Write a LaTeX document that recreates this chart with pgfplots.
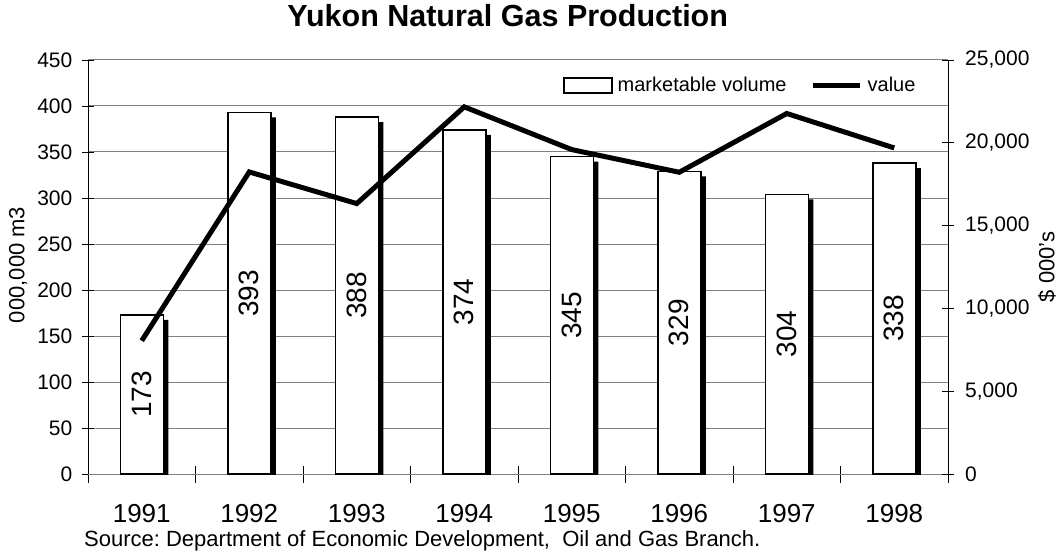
\documentclass[border=0pt]{standalone}
\usepackage{fontspec}
\setmainfont{Liberation Sans}
\usepackage{pgfplots}
\pgfplotsset{compat=1.18}
\usepackage{pgfplotstable}
\frenchspacing

\pgfplotstableread{
x year vol value
0 1991 173 8050
1 1992 393 18240
2 1993 388 16330
3 1994 374 22170
4 1995 345 19590
5 1996 329 18220
6 1997 304 21770
7 1998 338 19690
}\data

\definecolor{gridgray}{HTML}{808080}

\begin{document}
\begin{tikzpicture}
\path[use as bounding box] (-88pt,-78pt) rectangle (971pt,474pt);
\begin{axis}[
  at={(0,0)}, anchor=south west,
  scale only axis, width=860pt, height=414pt,
  xmin=-0.5, xmax=7.5, ymin=0, ymax=450,
  axis x line*=bottom, axis y line*=left,
  x axis line style={gridgray, line width=1pt},
  y axis line style={black, line width=1pt},
  /pgf/number format/assume math mode=true,
  ytick={0,50,...,450},
  ymajorgrids, major grid style={gridgray, line width=1pt},
  xtick={0,...,7},
  xticklabels={1991,1992,1993,1994,1995,1996,1997,1998},
  minor xtick={-0.5,0.5,...,7.5},
  tick align=center,
  major tick length=11pt, minor tick length=17pt,
  major x tick style={draw=none},
  minor x tick style={black, line width=0.8pt},
  major y tick style={black, line width=0.8pt},
  yticklabel style={font=\fontsize{21}{25}\selectfont, inner sep=0pt, anchor=east, xshift=-10pt},
  xticklabel style={font=\fontsize{26}{31}\selectfont, inner sep=0pt, anchor=north, yshift=-25pt},
  title={Yukon Natural Gas Production},
  title style={at={(0.488,1)}, anchor=base, yshift=27pt, inner sep=0pt, font=\bfseries\fontsize{30.5}{36}\selectfont},
  ylabel={000,000 m3},
  every axis y label/.style={at={(axis description cs:0,0.505)}, xshift=-70pt, rotate=90, anchor=center, inner sep=0pt, font=\fontsize{22}{26}\selectfont},
]
\addplot[ybar, bar width=0.4, bar shift=5pt, fill=black, draw=none, yshift=-5pt, forget plot]
  table[x=x, y=vol] {\data};
\addplot[ybar, bar width=0.4, bar shift=0pt, fill=white, draw=black, line width=1.5pt,
  visualization depends on={\thisrow{vol}/2 \as \halfv},
  nodes near coords,
  nodes near coords style={shift={(axis direction cs:0,-\halfv)}, rotate=90, anchor=center, inner sep=0pt, font=\fontsize{28}{34}\selectfont},
  forget plot]
  table[x=x, y=vol] {\data};
\end{axis}
\begin{axis}[
  at={(0,0)}, anchor=south west,
  scale only axis, width=860pt, height=414pt,
  xmin=-0.5, xmax=7.5, ymin=0, ymax=25000,
  axis y line*=right, axis x line=none,
  y axis line style={black, line width=1pt},
  xtick=\empty,
  ytick={0,5000,...,25000},
  scaled y ticks=false,
  /pgf/number format/.cd, fixed, precision=0, 1000 sep={,}, assume math mode=true, /pgfplots/.cd,
  tick align=center, major tick length=12pt,
  major y tick style={black, line width=0.8pt},
  yticklabel style={font=\fontsize{21}{25}\selectfont, inner sep=0pt, anchor=west, xshift=11pt},
  legend columns=2,
  legend style={at={(rel axis cs:0.5523,0.9384)}, anchor=west, draw=none, fill=none, inner sep=0pt,
    font=\fontsize{20}{24}\selectfont,
    nodes={inner sep=0pt},
    /tikz/every odd column/.append style={column sep=5pt},
    /tikz/every even column/.append style={column sep=24pt}},
]
\addlegendimage{legend image code/.code={\draw[black, line width=1.5pt, fill=white] (0pt,-7.5pt) rectangle (48pt,7.5pt);}}
\addlegendentry{marketable volume}
\addplot[black, line width=5pt, mark=none,
  legend image code/.code={\draw[black, line width=5pt] (0pt,0pt) -- (47pt,0pt);}]
  table[x=x, y=value] {\data};
\addlegendentry{value}
\end{axis}
\node[rotate=90, anchor=center, inner sep=0pt, font=\fontsize{22}{26}\selectfont] at (959pt,207pt) {\$ 000's};
\node[anchor=base west, inner sep=0pt, font=\fontsize{22}{26}\selectfont] at (-4pt,-72pt)
  {Source: Department of Economic Development,\ \ Oil and Gas Branch.};
\end{tikzpicture}
\end{document}
